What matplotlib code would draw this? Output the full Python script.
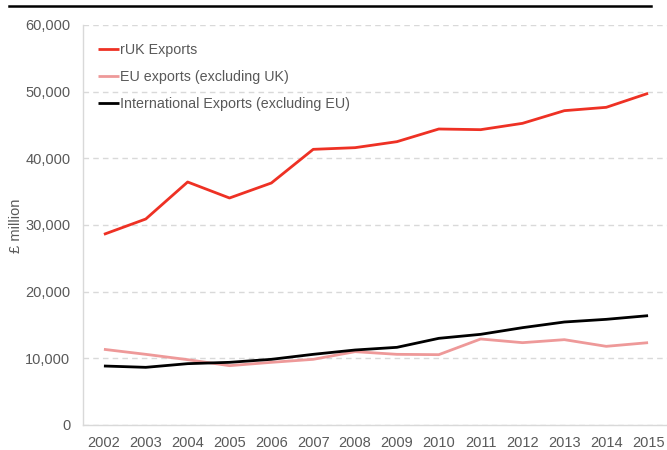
import matplotlib
matplotlib.use("Agg")
import matplotlib.pyplot as plt
from matplotlib.ticker import FuncFormatter
from matplotlib.lines import Line2D

years = ["2002", "2003", "2004", "2005", "2006", "2007", "2008",
         "2009", "2010", "2011", "2012", "2013", "2014", "2015"]
ruk_exports = [28600, 30900, 36450, 34050, 36300, 41350, 41600,
               42500, 44400, 44300, 45250, 47150, 47650, 49750]
eu_exports = [11350, 10600, 9800, 8900, 9400, 9850, 11000,
              10600, 10550, 12900, 12350, 12800, 11800, 12350]
intl_exports = [8850, 8650, 9200, 9400, 9850, 10600, 11250,
                11650, 13000, 13600, 14600, 15450, 15850, 16400]
series_names = ["rUK Exports", "EU exports (excluding UK)",
                "International Exports (excluding EU)"]
yticks = [0, 10000, 20000, 30000, 40000, 50000, 60000]

plt.rcParams['font.family'] = ['Liberation Sans', 'DejaVu Sans']

fig = plt.figure(figsize=(6.67, 4.5), dpi=100)
ax = fig.add_axes([83/667, 25/450, 586/667, 400/450])

x = list(range(len(years)))
colors = ["#EE3124", "#EE9999", "#000000"]
for vals, c, name in zip([ruk_exports, eu_exports, intl_exports], colors, series_names):
    ax.plot(x, vals, color=c, lw=2.0, label=name, solid_capstyle='butt')

ax.set_xlim(-0.5, 13.5)
ax.set_ylim(0, 60000)
ax.set_yticks(yticks)
ax.yaxis.set_major_formatter(FuncFormatter(lambda v, p: f"{int(v):,}"))
ax.set_xticks(x)
ax.set_xticklabels(years)
ax.tick_params(axis='both', length=0, labelsize=10.5, colors="#595959")
ax.tick_params(axis='x', pad=8)
ax.tick_params(axis='y', pad=9)
ax.grid(axis='y', color="#D9D9D9", linestyle=(0, (4, 3)), lw=1)
ax.set_axisbelow(True)
for s in ["top", "right"]:
    ax.spines[s].set_visible(False)
for s in ["left", "bottom"]:
    ax.spines[s].set_color("#D9D9D9")
    ax.spines[s].set_linewidth(1)

fig.text(16/667, 1 - 226/450, "£ million", rotation=90, fontsize=10.5,
         color="#595959", ha='center', va='center')

leg = ax.legend(loc='upper left', bbox_to_anchor=(15/586, 1 - 18/400), frameon=False,
                fontsize=10.3, handlelength=1.5, handletextpad=0.05,
                labelspacing=0.92, labelcolor="#595959",
                borderaxespad=0, borderpad=0)

fig.add_artist(Line2D([9/667, 651/667], [1 - 6/450, 1 - 6/450], color="black", lw=1.8,
                      transform=fig.transFigure))

fig.savefig("out.png", dpi=100)
